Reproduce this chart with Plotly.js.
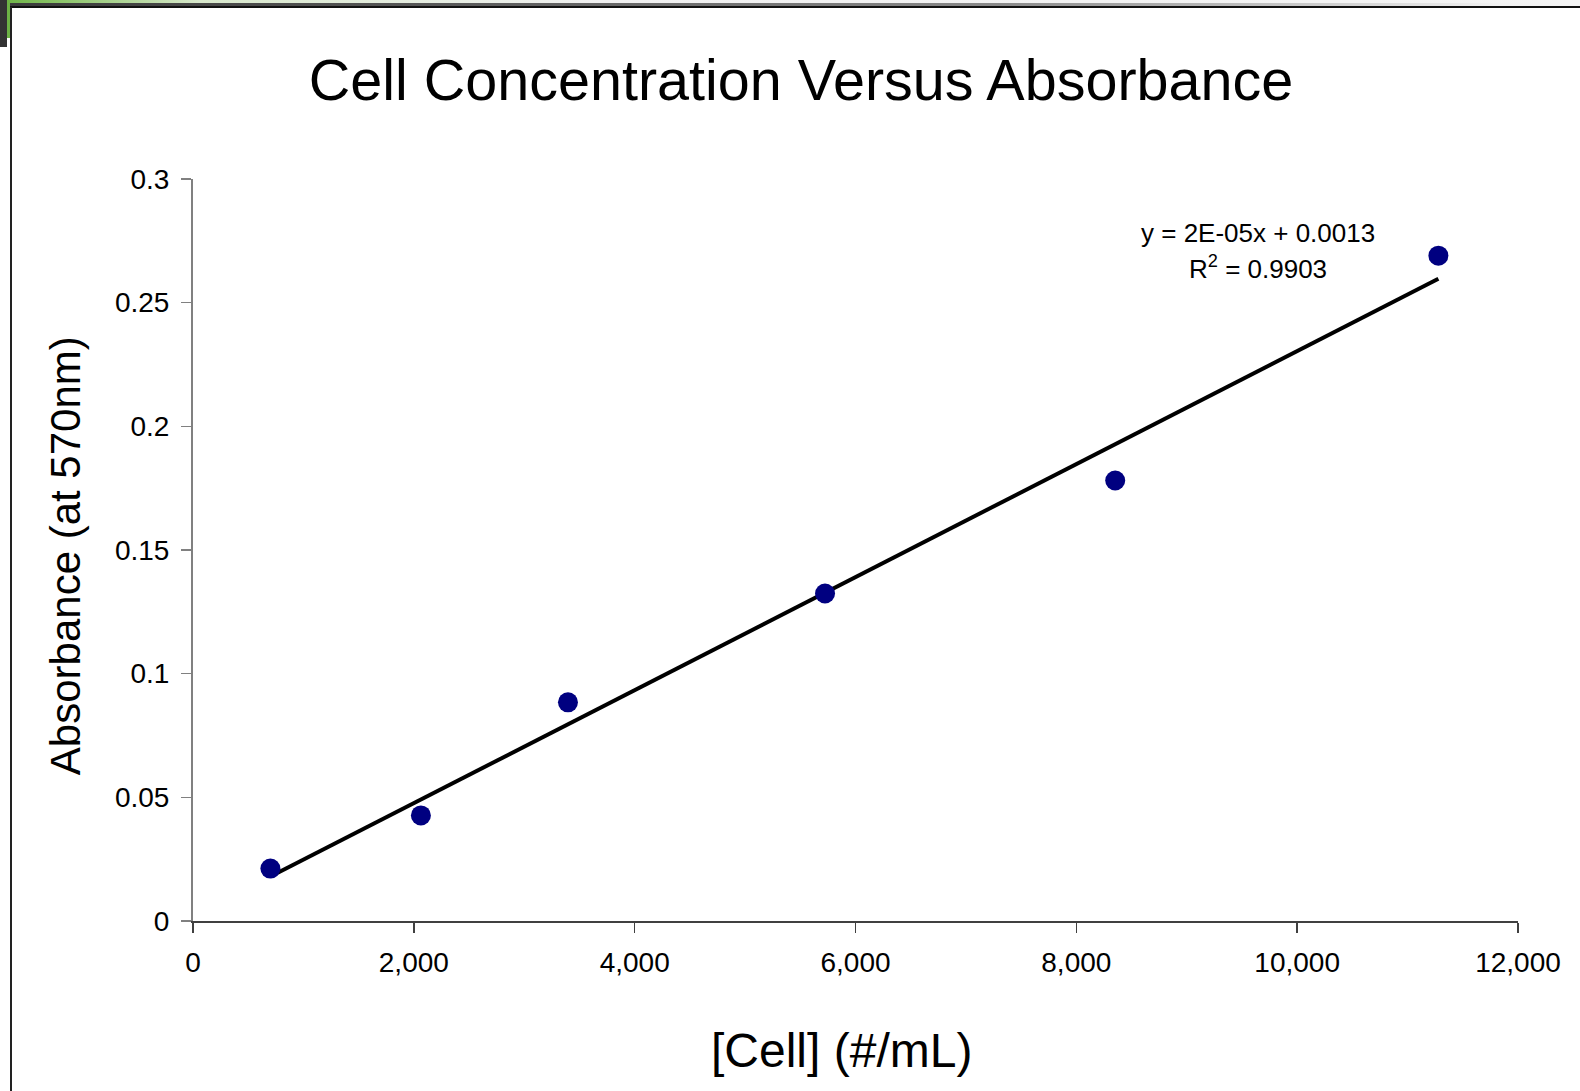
<!DOCTYPE html>
<html>
<head>
<meta charset="utf-8">
<script src="https://cdn.plot.ly/plotly-3.0.1.min.js"></script>
<style>
  html, body { margin: 0; padding: 0; background: #fff; }
  #wrap { position: relative; width: 1580px; height: 1091px; overflow: hidden; }
  #chart { position: absolute; left: 0; top: 0; width: 1580px; height: 1091px; }
  .deco { position: absolute; pointer-events: none; }
</style>
</head>
<body>
<div id="wrap">
  <div id="chart"></div>
  <div class="deco" style="left:0;top:0;width:1580px;height:3px;background:linear-gradient(to right,#6cb245 0px,#8cc46a 60px,#d8e8cc 200px,#f0f0f0 600px,#f4f4f4 1580px);"></div>
  <div class="deco" style="left:0;top:3px;width:1580px;height:4px;background:linear-gradient(to right,#3a3a3a 0px,#555 400px,#8a8a8a 1000px,#f2f2f2 1500px,#f4f4f4 1580px);"></div>
  <div class="deco" style="left:0;top:6px;width:1580px;height:2px;background:#111;"></div>
  <div class="deco" style="left:7px;top:0;width:3px;height:38px;background:#6cb245;"></div>
  <div class="deco" style="left:0;top:0;width:7px;height:47px;background:#333;"></div>
  <div class="deco" style="left:10px;top:7px;width:2px;height:1084px;background:#222;"></div>
</div>
<script>
// Data
const cellConc = [701, 2064, 3396, 5724, 8352, 11279];           // [Cell] (#/mL)
const absorbance = [0.0212, 0.0427, 0.0884, 0.1324, 0.1781, 0.269]; // Absorbance at 570nm

const xTickVals = [0, 2000, 4000, 6000, 8000, 10000, 12000];
const xTickText = ['0', '2,000', '4,000', '6,000', '8,000', '10,000', '12,000'];
const yTickVals = [0, 0.05, 0.1, 0.15, 0.2, 0.25, 0.3];
const yTickText = ['0', '0.05', '0.1', '0.15', '0.2', '0.25', '0.3'];

const chartTitle = 'Cell Concentration Versus Absorbance';
const xTitle = '[Cell] (#/mL)';
const yTitle = 'Absorbance (at 570nm)';
const eqLine1 = 'y = 2E-05x + 0.0013';
const eqLine2 = 'R<sup>2</sup> = 0.9903';

// Linear least-squares trendline (as Excel does)
const n = cellConc.length;
const mx = cellConc.reduce((a, b) => a + b, 0) / n;
const my = absorbance.reduce((a, b) => a + b, 0) / n;
let sxy = 0, sxx = 0;
for (let i = 0; i < n; i++) {
  sxy += (cellConc[i] - mx) * (absorbance[i] - my);
  sxx += (cellConc[i] - mx) * (cellConc[i] - mx);
}
const slope = sxy / sxx;
const intercept = my - slope * mx;
const xMin = Math.min(...cellConc), xMax = Math.max(...cellConc);
const trendX = [xMin, xMax];
const trendY = trendX.map(x => slope * x + intercept);

const font = 'Liberation Sans, Arial, sans-serif';

const traces = [
  {
    x: trendX, y: trendY, type: 'scatter', mode: 'lines',
    line: { color: '#000000', width: 4 }, hoverinfo: 'skip', showlegend: false
  },
  {
    x: cellConc, y: absorbance, type: 'scatter', mode: 'markers',
    marker: { color: '#000080', size: 20, line: { width: 0 } }, showlegend: false
  }
];

const layout = {
  width: 1580, height: 1091,
  margin: { l: 193, r: 62, t: 179, b: 170 },
  paper_bgcolor: '#ffffff', plot_bgcolor: '#ffffff',
  showlegend: false,
  title: {
    text: chartTitle,
    font: { family: font, size: 57.5, color: '#000' },
    xref: 'container', yref: 'container',
    x: 801 / 1580, xanchor: 'center',
    y: 1 - 80 / 1091, yanchor: 'middle'
  },
  xaxis: {
    range: [0, 12000], tickvals: xTickVals, ticktext: xTickText,
    showgrid: false, zeroline: false,
    showline: true, linecolor: '#404040', linewidth: 1.5,
    ticks: 'outside', ticklen: 10, tickcolor: '#404040', tickwidth: 1.5,
    tickfont: { family: font, size: 28, color: '#000' },
    ticklabelstandoff: 6,
    automargin: false
  },
  yaxis: {
    range: [0, 0.3], tickvals: yTickVals, ticktext: yTickText,
    showgrid: false, zeroline: false,
    showline: true, linecolor: '#808080', linewidth: 2,
    ticks: 'outside', ticklen: 10, tickcolor: '#808080', tickwidth: 1.5,
    tickfont: { family: font, size: 28, color: '#000' },
    ticklabelstandoff: 6,
    automargin: false
  },
  annotations: [
    {
      xref: 'paper', yref: 'paper', x: 0.8038, y: 0.9266,
      text: eqLine1, showarrow: false, xanchor: 'center', yanchor: 'middle',
      font: { family: font, size: 26, color: '#000' }
    },
    {
      xref: 'paper', yref: 'paper', x: 0.8038, y: 0.8808,
      text: eqLine2, showarrow: false, xanchor: 'center', yanchor: 'middle',
      font: { family: font, size: 26, color: '#000' }
    },
    {
      xref: 'paper', yref: 'paper', x: 0.4898, y: -0.1752,
      text: xTitle, showarrow: false, xanchor: 'center', yanchor: 'middle',
      font: { family: font, size: 48, color: '#000' }
    },
    {
      xref: 'paper', yref: 'paper', x: -0.0965, y: 0.4919,
      text: yTitle, showarrow: false, textangle: -90, xanchor: 'center', yanchor: 'middle',
      font: { family: font, size: 42, color: '#000' }
    }
  ]
};

Plotly.newPlot('chart', traces, layout, { staticPlot: true, displayModeBar: false });
</script>
</body>
</html>
